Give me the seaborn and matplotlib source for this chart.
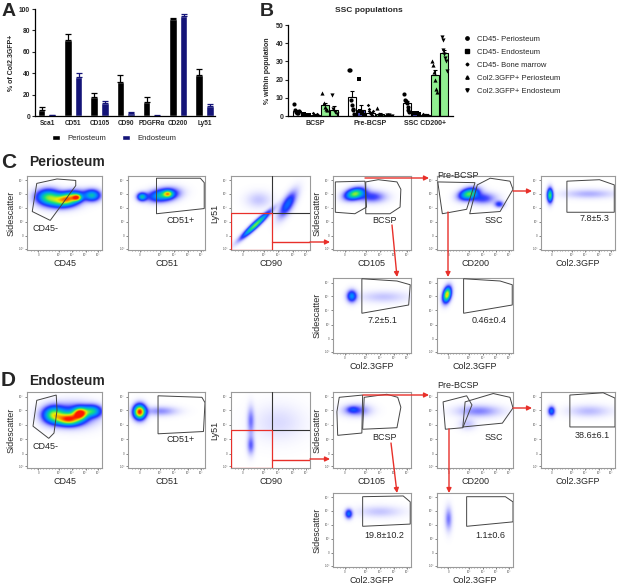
import numpy as np
import pandas as pd
import matplotlib
matplotlib.use("Agg")
import matplotlib.pyplot as plt
import seaborn as sns
from matplotlib.colors import LinearSegmentedColormap
from matplotlib.patches import Polygon, Rectangle
from matplotlib.lines import Line2D

sns.set_style("ticks")
plt.rcParams['font.family'] = ['Liberation Sans', 'DejaVu Sans']

# ---------------- Panel A data ----------------
a_markers = ['Sca1', 'CD51', 'CD105', 'CD90', 'PDGFRα', 'CD200', 'Ly51']
a_tissues = ['Periosteum', 'Endosteum']
a_peri = [6.0, 71.0, 18.0, 32.0, 13.0, 90.5, 38.5]
a_peri_err = [2.0, 6.0, 3.5, 6.0, 4.5, 1.5, 5.5]
a_endo = [0.5, 36.5, 12.5, 3.0, 0.3, 93.0, 9.5]
a_endo_err = [0.3, 3.5, 1.5, 1.2, 0.2, 2.0, 2.0]

# ---------------- Panel B data ----------------
b_groups = ['BCSP', 'Pre-BCSP', 'SSC CD200+']
b_series = ['CD45- Periosteum', 'CD45- Endosteum', 'CD45- Bone marrow',
            'Col2.3GFP+ Periosteum', 'Col2.3GFP+ Endosteum']
b_mean_cd45_peri = [2.5, 10.5, 7.0]
b_mean_cd45_endo = [0.7, 3.5, 1.5]
b_mean_cd45_bm = [0.8, 1.8, 0.7]
b_mean_gfp_peri = [5.8, 1.0, 22.8]
b_mean_gfp_endo = [3.5, 0.3, 34.7]
b_err_cd45_peri = [0.8, 3.3, 1.2]
b_err_cd45_endo = [0.2, 2.4, 0.2]
b_err_cd45_bm = [0.3, 0.6, 0.2]
b_err_gfp_peri = [1.5, 0.4, 2.5]
b_err_gfp_endo = [1.8, 0.1, 1.5]
b_pts_cd45_peri = [[6.8, 3.1, 2.2, 1.8, 1.4, 2.6], [25.5, 25.3, 8.6, 5.9, 4.0, 3.1, 1.3],
                   [12.0, 9.0, 8.1, 7.0, 5.0, 3.5, 2.0]]
b_pts_cd45_endo = [[1.0, 0.6, 0.5, 0.8], [20.6, 2.5, 1.5, 0.8], [1.6, 1.4, 1.5, 1.3]]
b_pts_cd45_bm = [[1.5, 0.8, 0.5, 1.0, 0.4], [5.9, 4.0, 2.5, 1.5, 1.0, 0.5, 0.2, 3.0],
                 [0.9, 0.6, 0.5, 0.7]]
b_pts_gfp_peri = [[12.7, 7.0, 5.0, 4.0, 3.5], [4.4, 1.0, 0.5, 0.4],
                  [30.0, 28.0, 24.0, 20.0, 15.0, 13.0]]
b_pts_gfp_endo = [[11.4, 4.0, 2.0, 1.0], [0.4, 0.3, 0.2],
                  [43.5, 42.0, 36.0, 34.0, 32.0, 30.0, 25.0]]

# ---------------- Flow cytometry: population blobs (x, y, sx, sy, weight, rho) ----------------
blobs_C1 = [(0.28, 0.72, 0.10, 0.065, 0.55, 0), (0.55, 0.70, 0.11, 0.06, 0.7, 0.3),
            (0.66, 0.71, 0.04, 0.03, 0.6, 0), (0.86, 0.74, 0.07, 0.05, 0.45, 0),
            (0.45, 0.66, 0.14, 0.06, 0.3, 0)]
blobs_C2 = [(0.18, 0.72, 0.04, 0.035, 0.45, 0), (0.48, 0.75, 0.11, 0.055, 0.45, 0.2),
            (0.52, 0.76, 0.04, 0.03, 0.45, 0), (0.35, 0.72, 0.1, 0.05, 0.12, 0)]
blobs_C3 = [(0.31, 0.34, 0.11, 0.11, 0.65, 0.95), (0.72, 0.62, 0.07, 0.11, 0.28, 0.7),
            (0.35, 0.68, 0.10, 0.07, 0.05, 0)]
blobs_C4 = [(0.28, 0.76, 0.08, 0.05, 0.65, 0.3), (0.50, 0.72, 0.11, 0.05, 0.18, 0)]
blobs_C5 = [(0.42, 0.76, 0.08, 0.05, 0.6, 0.3), (0.60, 0.70, 0.11, 0.05, 0.18, 0),
            (0.82, 0.62, 0.04, 0.03, 0.2, 0)]
blobs_C6 = [(0.12, 0.74, 0.025, 0.06, 0.6, 0), (0.65, 0.76, 0.22, 0.04, 0.07, 0)]
blobs_C7 = [(0.24, 0.76, 0.04, 0.05, 0.35, 0), (0.65, 0.75, 0.2, 0.05, 0.05, 0)]
blobs_C8 = [(0.13, 0.78, 0.035, 0.065, 0.8, 0.3)]
blobs_D1 = [(0.35, 0.70, 0.09, 0.07, 0.6, 0), (0.55, 0.64, 0.10, 0.05, 0.75, 0),
            (0.70, 0.72, 0.06, 0.05, 0.85, 0), (0.86, 0.75, 0.08, 0.05, 0.45, 0),
            (0.60, 0.70, 0.18, 0.09, 0.3, 0)]
blobs_D2 = [(0.15, 0.74, 0.05, 0.06, 1.0, 0), (0.42, 0.75, 0.14, 0.04, 0.1, 0)]
blobs_D3 = [(0.25, 0.62, 0.03, 0.12, 0.12, 0), (0.25, 0.30, 0.03, 0.08, 0.14, 0),
            (0.60, 0.60, 0.2, 0.15, 0.03, 0)]
blobs_D4 = [(0.30, 0.76, 0.11, 0.05, 0.14, 0), (0.25, 0.77, 0.05, 0.03, 0.12, 0)]
blobs_D5 = [(0.55, 0.75, 0.18, 0.05, 0.11, 0), (0.40, 0.58, 0.07, 0.05, 0.05, 0)]
blobs_D6 = [(0.14, 0.75, 0.03, 0.04, 0.3, 0), (0.65, 0.75, 0.18, 0.05, 0.06, 0)]
blobs_D7 = [(0.20, 0.72, 0.03, 0.04, 0.3, 0), (0.60, 0.75, 0.18, 0.05, 0.05, 0)]
blobs_D8 = [(0.15, 0.65, 0.03, 0.10, 0.12, 0)]

# gates (axes-fraction polygons)
gate_C1 = [(0.13, 0.90), (0.40, 0.96), (0.65, 0.94), (0.65, 0.87), (0.31, 0.40), (0.07, 0.52)]
gate_C2 = [(0.37, 0.97), (0.94, 0.97), (0.99, 0.91), (0.99, 0.56), (0.37, 0.49)]
gate_C4a = [(0.03, 0.92), (0.41, 0.93), (0.43, 0.58), (0.28, 0.49), (0.03, 0.51)]
gate_C4b = [(0.42, 0.92), (0.58, 0.95), (0.82, 0.92), (0.87, 0.82), (0.86, 0.58), (0.73, 0.49), (0.42, 0.49)]
gate_C5a = [(0.01, 0.92), (0.50, 0.91), (0.39, 0.55), (0.07, 0.49)]
gate_C5b = [(0.53, 0.88), (0.70, 0.97), (0.96, 0.93), (1.0, 0.82), (0.83, 0.52), (0.43, 0.49)]
gate_C6 = [(0.35, 0.93), (0.79, 0.95), (0.99, 0.88), (0.99, 0.51), (0.35, 0.51)]
gate_C7 = [(0.37, 0.99), (0.82, 0.96), (0.99, 0.91), (0.97, 0.64), (0.37, 0.53)]
gate_C8 = [(0.35, 0.99), (0.83, 0.96), (0.99, 0.91), (0.99, 0.64), (0.35, 0.53)]
gate_D1 = [(0.13, 0.89), (0.39, 0.96), (0.40, 0.76), (0.36, 0.46), (0.29, 0.39), (0.08, 0.55)]
gate_D2 = [(0.39, 0.95), (0.96, 0.93), (1.0, 0.86), (0.98, 0.48), (0.39, 0.45)]
gate_D4a = [(0.08, 0.93), (0.38, 0.96), (0.37, 0.46), (0.06, 0.43), (0.05, 0.74)]
gate_D4b = [(0.40, 0.93), (0.69, 0.97), (0.83, 0.93), (0.87, 0.80), (0.82, 0.53), (0.38, 0.51)]
gate_D5a = [(0.08, 0.87), (0.39, 0.95), (0.46, 0.83), (0.34, 0.53), (0.11, 0.51)]
gate_D5b = [(0.37, 0.87), (0.74, 0.98), (0.96, 0.93), (1.0, 0.79), (0.86, 0.59), (0.34, 0.54)]
gate_D6 = [(0.39, 0.96), (0.84, 0.99), (1.0, 0.92), (1.0, 0.54), (0.39, 0.54)]
gate_D7 = [(0.38, 0.95), (0.90, 0.96), (0.99, 0.88), (0.99, 0.58), (0.38, 0.55)]
gate_D8 = [(0.39, 0.95), (0.90, 0.95), (1.0, 0.88), (1.0, 0.61), (0.39, 0.55)]

freq_C = ['7.8±5.3', '7.2±5.1', '0.46±0.4']
freq_D = ['38.6±6.1', '19.8±10.2', '1.1±0.6']

# ---------------- figure ----------------
W, H = 617, 586
fig = plt.figure(figsize=(W / 100, H / 100), dpi=100)


def add_ax(l, t, r, b):
    return fig.add_axes([l / W, 1 - b / H, (r - l) / W, (b - t) / H])


NAVY = '#141478'
RED = '#e8302a'

# ---------------- Panel A ----------------
axA = add_ax(35, 9, 215, 116)
dfA = pd.DataFrame({
    'marker': a_markers * 2,
    'value': a_peri + a_endo,
    'tissue': [a_tissues[0]] * len(a_markers) + [a_tissues[1]] * len(a_markers),
})
sns.barplot(data=dfA, x='marker', y='value', hue='tissue', palette=['black', NAVY],
            width=0.82, gap=0.3, errorbar=None, saturation=1, legend=False, ax=axA)
barsA = list(axA.containers)
for cont, errs, col in zip(barsA, [a_peri_err, a_endo_err], ['black', NAVY]):
    xs = [p.get_x() + p.get_width() / 2 for p in cont.patches]
    hs = [p.get_height() for p in cont.patches]
    axA.errorbar(xs, hs, yerr=[np.zeros(len(errs)), errs], fmt='none', ecolor=col,
                 elinewidth=0.9, capsize=2.0, capthick=0.9)
axA.set_ylim(0, 100)
axA.set_xlim(-0.46, 6.4)
axA.set_yticks([0, 20, 40, 60, 80, 100])
axA.set_xlabel('')
axA.set_ylabel('% of Col2.3GFP+', fontsize=5, fontweight='bold', labelpad=3)
axA.tick_params(axis='y', labelsize=4.8, length=2, width=0.8, pad=1.5)
axA.tick_params(axis='x', labelsize=4.7, length=0, pad=3)
for lab in axA.get_xticklabels() + axA.get_yticklabels():
    lab.set_fontweight('bold')
for s in ['top', 'right']:
    axA.spines[s].set_visible(False)
for s in ['left', 'bottom']:
    axA.spines[s].set_linewidth(0.9)
    axA.spines[s].set_color('black')
handlesA = [Rectangle((0, 0), 1, 1, facecolor='black'), Rectangle((0, 0), 1, 1, facecolor=NAVY)]
axA.legend(handlesA, a_tissues, ncol=2, loc='center', bbox_to_anchor=(0.44, -0.21),
           frameon=False, fontsize=5.5, handlelength=1.1, handleheight=0.6,
           columnspacing=2.0, handletextpad=1.0)

# ---------------- Panel B ----------------
axB = add_ax(288, 25, 453, 116)
b_means = [b_mean_cd45_peri, b_mean_cd45_endo, b_mean_cd45_bm, b_mean_gfp_peri, b_mean_gfp_endo]
b_errs = [b_err_cd45_peri, b_err_cd45_endo, b_err_cd45_bm, b_err_gfp_peri, b_err_gfp_endo]
b_pts = [b_pts_cd45_peri, b_pts_cd45_endo, b_pts_cd45_bm, b_pts_gfp_peri, b_pts_gfp_endo]
b_markers = ['o', 's', 'D', '^', 'v']
b_msize = [3.0, 3.0, 1.8, 3.0, 3.0]
b_face = ['white', '#4444aa', 'white', '#90ee90', '#90ee90']
dfB = pd.DataFrame({
    'group': b_groups * 5,
    'mean': sum(b_means, []),
    'series': [s for s in b_series for _ in b_groups],
})
sns.barplot(data=dfB, x='group', y='mean', hue='series', palette=b_face,
            width=0.85, gap=0.12, errorbar=None, saturation=1, legend=False,
            edgecolor='black', linewidth=0.8, ax=axB)
barsB = list(axB.containers)
for k, cont in enumerate(barsB):
    xs = [p.get_x() + p.get_width() / 2 for p in cont.patches]
    hs = [p.get_height() for p in cont.patches]
    axB.errorbar(xs, hs, yerr=[np.zeros(3), b_errs[k]], fmt='none', ecolor='black',
                 elinewidth=0.8, capsize=1.6, capthick=0.8, zorder=3)
    for gi, x0 in enumerate(xs):
        vals = b_pts[k][gi]
        offs = np.linspace(-0.045, 0.045, len(vals))
        axB.scatter(x0 + offs, vals, marker=b_markers[k], s=b_msize[k] ** 2,
                    color='black', linewidths=0, zorder=4)
axB.set_ylim(0, 50)
axB.set_xlim(-0.5, 2.5)
axB.set_yticks([0, 10, 20, 30, 40, 50])
axB.set_xlabel('')
axB.set_ylabel('% within population', fontsize=5, fontweight='bold', labelpad=3)
axB.tick_params(axis='both', labelsize=5, length=2, width=0.8, pad=1.5)
axB.tick_params(axis='x', length=0, pad=3)
for lab in axB.get_xticklabels() + axB.get_yticklabels():
    lab.set_fontweight('bold')
for s in ['top', 'right']:
    axB.spines[s].set_visible(False)
for s in ['left', 'bottom']:
    axB.spines[s].set_linewidth(0.9)
    axB.spines[s].set_color('black')
handlesB = [Line2D([], [], marker=m, linestyle='none', color='black', markersize=ms * 0.8)
            for m, ms in zip(b_markers, b_msize)]
axB.legend(handlesB, b_series, loc='upper left', bbox_to_anchor=(1.04, 0.93),
           frameon=False, fontsize=5.5, handletextpad=0.8, labelspacing=0.75,
           borderpad=0, handlelength=1.0)

# ---------------- Flow cytometry panels ----------------
cmap = LinearSegmentedColormap.from_list('flow', [
    (0.0, '#6a6aff'), (0.15, '#2020ff'), (0.35, '#0090ff'), (0.55, '#10e080'),
    (0.75, '#f0f000'), (1.0, '#ff1800')])
grid = np.linspace(0, 1, 160)
GX, GY = np.meshgrid(grid, grid)


def density(blobs):
    d = np.zeros_like(GX)
    for (cx, cy, sx, sy, w, rho) in blobs:
        dx = (GX - cx) / sx
        dy = (GY - cy) / sy
        q = (dx * dx - 2 * rho * dx * dy + dy * dy) / (1 - rho ** 2)
        d += w * np.exp(-0.5 * q)
    return np.clip(d, 0, 1)


def flow(box, blobs, gates, xlabel, ylabel=None, labels=(), quad=False):
    l, t, r, b = box
    ax = add_ax(l, t, r, b)
    d = density(blobs)
    rgba = cmap(d)
    rgba[..., 3] = np.clip(d / 0.2, 0, 1) ** 0.8
    ax.imshow(rgba, extent=(0, 1, 0, 1), origin='lower', aspect='auto',
              interpolation='bilinear', zorder=1)
    for g in gates:
        ax.add_patch(Polygon(g, closed=True, fill=False, edgecolor='#444444',
                             linewidth=0.7, zorder=3))
    if quad:
        ax.plot([0.52, 0.52], [0.5, 1.0], color='#333333', lw=0.8, zorder=3)
        ax.plot([0.52, 1.0], [0.5, 0.5], color='#333333', lw=0.8, zorder=3)
        ax.add_patch(Rectangle((0.0, 0.0), 0.52, 0.5, fill=False, edgecolor=RED,
                               linewidth=0.9, zorder=4))
        ax.plot([0.52, 1.0], [0.11, 0.11], color=RED, lw=1.0, zorder=4)
    for (tx, ty, s) in labels:
        ax.text(tx, ty, s, transform=ax.transAxes, fontsize=6.5, ha='left',
                va='center', zorder=5, clip_on=False)
    ax.set_xlim(0, 1)
    ax.set_ylim(0, 1)
    ax.set_yticks([0.02, 0.19, 0.38, 0.57, 0.76, 0.94])
    ax.set_yticklabels(['-10³', '0', '10³', '10⁴', '10⁵', '10⁶'])
    ax.set_xticks([0.15, 0.42, 0.6, 0.78, 0.95])
    ax.set_xticklabels(['0', '10³', '10⁴', '10⁵', '10⁶'])
    ax.set_xticks(np.linspace(0.05, 0.97, 24), minor=True)
    ax.tick_params(axis='both', which='major', labelsize=2.2, length=1.6, width=0.5,
                   pad=0.8, colors='#555555')
    ax.tick_params(axis='x', which='minor', length=1.0, width=0.4, color='#555555')
    for s in ax.spines.values():
        s.set_color('#9a9a9a')
        s.set_linewidth(0.8)
    ax.set_xlabel(xlabel, fontsize=6.5, labelpad=1.5)
    if ylabel:
        ax.set_ylabel(ylabel, fontsize=6.5, labelpad=2)
    return ax


def panel(row1_t, row1_b, row2_t, row2_b, bl, g, freqs, big):
    flow((27, row1_t, 102, row1_b), bl[0], [g[0]], 'CD45', 'Sidescatter',
         [(0.07, 0.29 if big else 0.28, 'CD45-')])
    flow((128, row1_t, 205, row1_b), bl[1], [g[1]], 'CD51', None,
         [(0.5, 0.40 if big else 0.37, 'CD51+')])
    flow((231, row1_t, 310, row1_b), bl[2], [], 'CD90', 'Ly51', quad=True)
    flow((333, row1_t, 411, row1_b), bl[3], [g[2], g[3]], 'CD105', 'Sidescatter',
         [(0.5, 0.40, 'BCSP')])
    flow((437, row1_t, 513, row1_b), bl[4], [g[4], g[5]], 'CD200', None,
         [(0.0, 1.0 if big else 1.08, 'Pre-BCSP'), (0.62, 0.40, 'SSC')])
    flow((541, row1_t, 615, row1_b), bl[5], [g[6]], 'Col2.3GFP', None,
         [(0.52 if big else 0.45, 0.43, freqs[0])])
    flow((333, row2_t, 411, row2_b), bl[6], [g[7]], 'Col2.3GFP', 'Sidescatter',
         [(0.44 if big else 0.40, 0.43, freqs[1])])
    flow((437, row2_t, 513, row2_b), bl[7], [g[8]], 'Col2.3GFP', None,
         [(0.46 if big else 0.50, 0.43, freqs[2])])


panel(176, 250, 278, 353,
      [blobs_C1, blobs_C2, blobs_C3, blobs_C4, blobs_C5, blobs_C6, blobs_C7, blobs_C8],
      [gate_C1, gate_C2, gate_C4a, gate_C4b, gate_C5a, gate_C5b, gate_C6, gate_C7, gate_C8],
      freq_C, True)
panel(392, 468, 493, 567,
      [blobs_D1, blobs_D2, blobs_D3, blobs_D4, blobs_D5, blobs_D6, blobs_D7, blobs_D8],
      [gate_D1, gate_D2, gate_D4a, gate_D4b, gate_D5a, gate_D5b, gate_D6, gate_D7, gate_D8],
      freq_D, False)

# ---------------- overlay: letters, titles, arrows ----------------
ov = fig.add_axes([0, 0, 1, 1], zorder=10)
ov.set_xlim(0, W)
ov.set_ylim(H, 0)
ov.axis('off')
ov.patch.set_alpha(0)
ov.text(2, 12, 'A', fontsize=14, fontweight='bold', va='center', ha='left')
ov.text(260, 12, 'B', fontsize=14, fontweight='bold', va='center', ha='left')
ov.text(335, 11, 'SSC populations', fontsize=6, fontweight='bold', va='center', ha='left')
ov.text(1, 162, 'C', fontsize=15, fontweight='bold', va='center', ha='left')
ov.text(29, 162, 'Periosteum', fontsize=10, fontweight='bold', va='center', ha='left')
ov.text(1, 380, 'D', fontsize=15, fontweight='bold', va='center', ha='left')
ov.text(29, 381, 'Endosteum', fontsize=10, fontweight='bold', va='center', ha='left')

arrows = [((310, 242), (330, 242)), ((365, 178), (429, 178)), ((513, 191), (532, 191)),
          ((392, 225), (397, 277)), ((448, 212), (448, 277)),
          ((310, 459), (330, 459)), ((363, 395), (429, 395)), ((513, 408), (532, 408)),
          ((391, 443), (397, 493)), ((449, 429), (449, 493))]
for (x0, y0), (x1, y1) in arrows:
    ov.annotate('', xy=(x1, y1), xytext=(x0, y0),
                arrowprops=dict(arrowstyle='-|>', color=RED, lw=1.0,
                                mutation_scale=7, shrinkA=0, shrinkB=0))

fig.savefig('out.png', dpi=100)
